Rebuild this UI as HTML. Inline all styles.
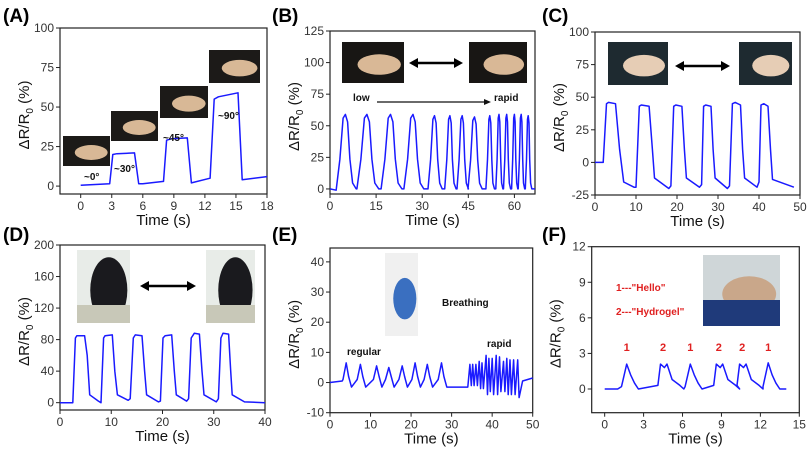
<!DOCTYPE html>
<html><head><meta charset="utf-8"><style>
body{margin:0;background:#fff}
svg{display:block;font-family:"Liberation Sans",Arial,sans-serif}
</style></head><body>
<svg id="fig" width="810" height="449" viewBox="0 0 810 449" xmlns="http://www.w3.org/2000/svg"></svg>
<script>
// ---- Data ----
const aT=[0,2.8,3.1,3.5,5.2,5.6,6,8,8.3,8.8,10.3,10.7,12.5,12.9,13.3,15.2,15.6,18];
const aV=[0.5,1.5,20,20.5,21,1.5,1.5,3,29,30,30.5,2,5,55,56.5,59,4,6];
const bPeakT=[5,12,19.7,27,34,39,43,47,52,55,57.5,60,62.2,64.5];
const bPeakV=[59,59,59,59,58,58,58,57,58,59,59,59,59,58];
const cT=[0,2,2.8,3.3,5,6,7,9.5,10,10.8,11.3,13.2,14,14.5,18,18.5,19.2,19.7,21.2,21.8,22.3,25.5,26,26.5,27,28.3,28.8,29.3,32.3,32.8,33.5,34.2,35.5,36,36.5,39.5,40,40.5,41.2,42.2,42.8,43.3,48.5];
const cV=[0,0,45,46,45,10,-15,-19,-19,43,44,43,10,-12,-20,-18,43,44,43,10,-12,-19,-17,43,44,43,10,-12,-20,-18,45,46,44,10,-12,-19,-15,44,45,43,10,-13,-19];
const dT=[0,2.5,3,3.3,4.8,5.3,5.8,7.5,8,8.5,8.8,10.2,10.7,11.2,13.3,13.7,14.3,14.7,16,16.5,16.9,19.2,19.6,20.1,20.5,21.8,22.3,22.7,24.7,25.1,25.6,26.2,27.2,27.7,28.1,30.5,30.9,31.4,31.8,32.9,33.3,33.6,36,40];
const dV=[0,0,82,85,85,60,10,2,0,82,85,86,40,10,3,5,82,86,85,40,10,1,2,82,85,86,40,10,2,5,82,88,87,40,10,1,5,82,88,87,40,10,1,0];
const eRegT=[4,7.5,11.5,14.5,17.8,21,24,27.5];
const eRegV=[6.5,6,5.5,5,5.5,6.5,6,6.5];
const eRapT=[34.5,35.2,36,36.8,37.5,38.5,39.2,40,41,41.8,42.8,43.6,44.4,45.3,46.3];
const eRapV=[6,6,6,7,6.5,9,8,8,9,8.5,7,8,7.5,7.5,7.5];
const eRapMin=[-1,-1,-1,-2,-2,-4,-3,-4,-4,-3,-3,-4,-4,-4,-5];
const fPeakT=[1.7,4.5,6.6,8.8,10.6,12.6];
const fWord=["1","2","1","2","2","1"];
const fPeakV=[2.1,2.1,2.1,2.1,2.1,2.2];
const aXT=[0,3,6,9,12,15,18], aYT=[0,25,50,75,100];
const bXT=[0,15,30,45,60], bYT=[0,25,50,75,100,125];
const cXT=[0,10,20,30,40,50], cYT=[-25,0,25,50,75,100];
const dXT=[0,10,20,30,40], dYT=[0,40,80,120,160,200];
const eXT=[0,10,20,30,40,50], eYT=[-10,0,10,20,30,40];
const fXT=[0,3,6,9,12,15], fYT=[0,3,6,9,12];

const NS="http://www.w3.org/2000/svg";
const fig=document.getElementById('fig');
function mk(tag,attrs,parent,text){const e=document.createElementNS(NS,tag);for(const k in attrs)e.setAttribute(k,attrs[k]);if(text!==undefined)e.textContent=text;(parent||fig).appendChild(e);return e;}

function panel(o){
  const g=mk('g',{});
  
  
  const [l,t,r,b]=o.box;
  const sx=v=>l+(v-o.x[0])/(o.x[1]-o.x[0])*(r-l);
  const sy=v=>b-(v-o.y[0])/(o.y[1]-o.y[0])*(b-t);
  const lab=mk('text',{x:o.lp[0],y:o.lp[1],'font-size':19,'font-weight':'bold',fill:'#000'},g,'('+o.id.toUpperCase()+')');
  
  
  const box=mk('rect',{x:l,y:t,width:r-l,height:b-t,fill:'none',stroke:'#222','stroke-width':1.2},g);
  
  
  o.xt.forEach(v=>{const X=sx(v);mk('line',{x1:X,x2:X,y1:b,y2:b+4,stroke:'#222'},g);
    const tx=mk('text',{x:X,y:b+16,'font-size':12,'text-anchor':'middle',fill:'#333'},g,v);
    
    });
  o.yt.forEach(v=>{const Y=sy(v);mk('line',{x1:l-4,x2:l,y1:Y,y2:Y,stroke:'#222'},g);
    const tx=mk('text',{x:l-6,y:Y+4,'font-size':12,'text-anchor':'end',fill:'#333'},g,v);
    
    });
  const xt=mk('text',{x:(l+r)/2,y:b+31,'font-size':15,'text-anchor':'middle',fill:'#111'},g,'Time (s)');
  
  
  const cx=l-31, cy=(t+b)/2+4;
  const yt=mk('text',{x:cx,y:cy,'font-size':15,'text-anchor':'middle',fill:'#111',transform:`rotate(-90 ${cx} ${cy})`},g);
  
  
  mk('tspan',{},yt,'ΔR/R');mk('tspan',{'font-size':10,dy:4},yt,'0');mk('tspan',{dy:-4},yt,' (%)');
  const pts=o.pts.map(p=>sx(p[0]).toFixed(1)+','+sy(p[1]).toFixed(1)).join(' ');
  const pl=mk('polyline',{points:pts,fill:'none',stroke:'#1a1aff','stroke-width':1.5,'stroke-linejoin':'round'},g);
  
  
  return {g,sx,sy};
}
function zip(T,V){return T.map((t,i)=>[t,V[i]]);}
function photo(g,x,y,w,h,c1,c2,name,ry){
  const r=mk('rect',{x,y,width:w,height:h,fill:c1},g);
  
  
  mk('ellipse',{cx:x+w*0.6,cy:y+h*0.55,rx:w*0.35,ry:h*(ry||0.25),fill:c2},g);
}
function arrow(g,x1,x2,y){
  const a=mk('g',{},g);
  
  
  mk('line',{x1:x1+6,x2:x2-6,y1:y,y2:y,stroke:'#000','stroke-width':2.5},a);
  mk('polygon',{points:`${x1},${y} ${x1+9},${y-5} ${x1+9},${y+5}`,fill:'#000'},a);
  mk('polygon',{points:`${x2},${y} ${x2-9},${y-5} ${x2-9},${y+5}`,fill:'#000'},a);
}
function txt(g,x,y,s,size,fill,name){const e=mk('text',{x,y,'font-size':size,'font-weight':'bold',fill},g,s);
  
  return e;}

// A
const A=panel({id:'a',box:[60,28,267,194],x:[-2,18],y:[-5,100],xt:aXT,yt:aYT,lp:[3,22],pts:zip(aT,aV)});
photo(A.g,63,136,47,30,'#1c1a18','#d8b896','photo-0deg');
photo(A.g,111,111,47,30,'#1c1a18','#d8b896','photo-30deg');
photo(A.g,160,86,48,32,'#1c1a18','#d8b896','photo-45deg');
photo(A.g,209,50,51,33,'#1c1a18','#d8b896','photo-90deg');
txt(A.g,84,180,'~0°',10,'#111','angle-label');
txt(A.g,114,172,'~30°',10,'#111','angle-label');
txt(A.g,163,141,'~45°',10,'#111','angle-label');
txt(A.g,218,119,'~90°',10,'#111','angle-label');

// B
const bPts=[[0,0],[2,-1]];
bPeakT.forEach((t,i)=>{const gap=i<bPeakT.length-1?bPeakT[i+1]-t:t-bPeakT[i-1];const w=gap*0.42;const v=bPeakV[i];
  bPts.push([t-w,0],[t-0.6*w,0.4*v],[t-0.25*w,0.95*v],[t,v],[t+0.25*w,0.9*v],[t+0.5*w,0.4*v],[t+0.8*w,0.08*v],[t+1.2*w,0]);});
bPts.push([66,0],[66.7,0]);
const B=panel({id:'b',box:[330,31,535,194],x:[0,66.7],y:[-4,125],xt:bXT,yt:bYT,lp:[272,22],pts:bPts});
photo(B.g,342,42,62,41,'#181614','#d9b896','photo-finger-straight');
photo(B.g,469,42,58,41,'#181614','#d9b896','photo-finger-bent');
arrow(B.g,409,463,63);
txt(B.g,353,101,'low',10,'#111','low-label');
mk('line',{x1:377,x2:486,y1:102,y2:102,stroke:'#111','stroke-width':1.2},B.g);
mk('polygon',{points:'491,102 484,99 484,105',fill:'#111'},B.g);
txt(B.g,494,101,'rapid',10,'#111','rapid-label');

// C
const C=panel({id:'c',box:[595,32,800,195],x:[0,50],y:[-25,100],xt:cXT,yt:cYT,lp:[542,22],pts:zip(cT,cV)});
photo(C.g,608,42,60,43,'#1e2a30','#e6cdb5','photo-wrist-straight');
photo(C.g,739,42,53,43,'#1e2a30','#e6cdb5','photo-wrist-bent');
arrow(C.g,675,730,66);

// D
const D=panel({id:'d',box:[60,245,265,410],x:[0,40],y:[-9.3,200],xt:dXT,yt:dYT,lp:[3,241],pts:zip(dT,dV)});
photo(D.g,77,250,53,73,'#e8ece8','#1a1a1e','photo-standing',0.45);
mk('rect',{x:77,y:305,width:53,height:18,fill:'#c8c8b8'},D.g);
photo(D.g,206,250,49,73,'#e8ece8','#1a1a1e','photo-knee-bent',0.45);
mk('rect',{x:206,y:305,width:49,height:18,fill:'#c8c8b8'},D.g);
arrow(D.g,140,196,286);

// E
const ePts=[[0,0],[3,0.5]];
eRegT.forEach((t,i)=>{ePts.push([t-0.8,1],[t,eRegV[i]],[t+0.6,2],[t+1.3,-1.5]);});
ePts.push([30,-1.5],[34,-1.5]);
eRapT.forEach((t,i)=>{ePts.push([t,eRapV[i]],[t+0.35,eRapMin[i]]);});
ePts.push([47.5,0.5],[50,1.5]);
const E=panel({id:'e',box:[330,248,532.7,412.7],x:[0,50],y:[-10,44.6],xt:eXT,yt:eYT,lp:[272,241],pts:ePts});
photo(E.g,385,253,33,83,'#f0f0f0','#3a6fc0','photo-torso');
txt(E.g,442,306,'Breathing',10,'#111','breathing-label');
txt(E.g,347,355,'regular',10,'#111','regular-label');
txt(E.g,487,347,'rapid',10,'#111','rapid-label');

// F
const fPts=[[0,0],[1,0]];
fPeakT.forEach((t,i)=>{
  if(fWord[i]==='1'){fPts.push([t-0.4,0.2],[t,fPeakV[i]],[t+0.3,1.2],[t+0.6,0.5],[t+0.9,0]);}
  else{fPts.push([t-0.4,0.3],[t-0.2,fPeakV[i]],[t+0.1,1.8],[t+0.3,fPeakV[i]],[t+0.7,0.8],[t+1.3,0.3],[t+1.6,0]);}
});
fPts.push([14,0]);
const F=panel({id:'f',box:[591.7,246.7,799.3,412.7],x:[-1,15],y:[-2,12],xt:fXT,yt:fYT,lp:[542,241],pts:fPts});
fPeakT.forEach((t,i)=>{const e=mk('text',{x:F.sx(t),y:F.sy(3.2),'font-size':11,'font-weight':'bold','text-anchor':'middle',fill:'#e02020'},F.g,fWord[i]);
  
  });
photo(F.g,703,255,77,71,'#cfd6d8','#c9a78a','photo-throat');
mk('rect',{x:703,y:300,width:77,height:26,fill:'#1f3a7a'},F.g);
txt(F.g,616,291,'1---"Hello"',10,'#e02020','legend-hello');
txt(F.g,616,315,'2---"Hydrogel"',10,'#e02020','legend-hydrogel');
</script>
</body></html>
